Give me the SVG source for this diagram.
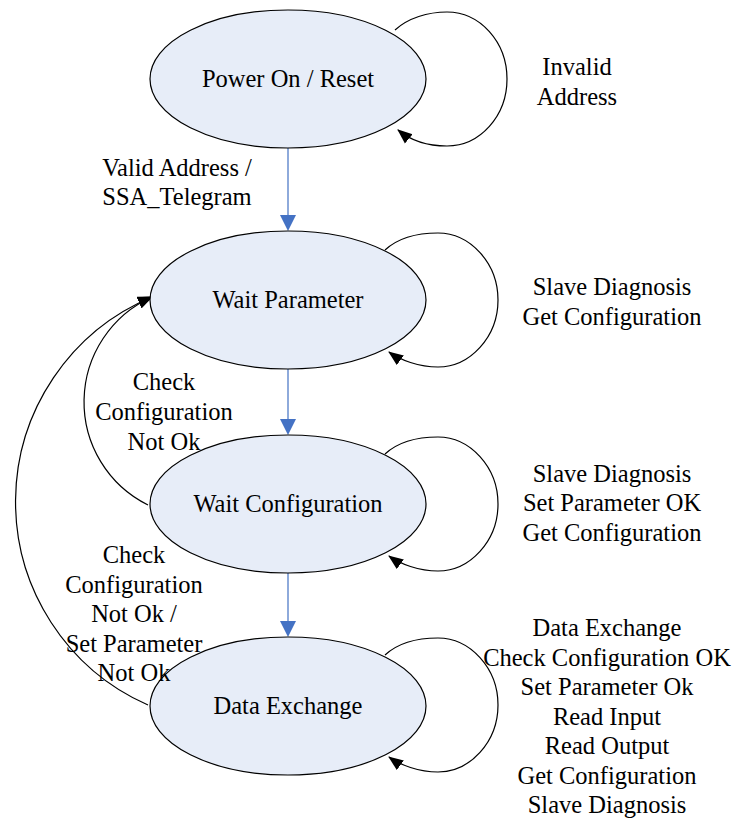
<svg xmlns="http://www.w3.org/2000/svg" width="734" height="821" viewBox="0 0 734 821">
<style>
.node ellipse{fill:#e7edf8;stroke:#000;stroke-width:1.2}
text{font-family:"Liberation Serif","Times New Roman",serif;font-size:24.5px;fill:#000;text-anchor:middle}
.loop{fill:none;stroke:#000;stroke-width:1.2;marker-end:url(#ah)}
.blue{stroke:#8eaadb;stroke-width:2;fill:none}
.bh{fill:#4472c4}
</style>
<defs>
<marker id="ah" markerUnits="userSpaceOnUse" markerWidth="16" markerHeight="14" refX="14" refY="6" orient="auto" viewBox="0 0 16 12">
<path d="M0,0 L15,6 L0,12 Z" fill="#000"/>
</marker>
</defs>
<rect width="734" height="821" fill="#fff"/>
<g id="connectors">
<line class="blue" x1="288" y1="148" x2="288" y2="216"/>
<polygon class="bh" points="280,215 296,215 288,231"/>
<line class="blue" x1="288" y1="369" x2="288" y2="420"/>
<polygon class="bh" points="280,419 296,419 288,435"/>
<line class="blue" x1="288" y1="573" x2="288" y2="622"/>
<polygon class="bh" points="280,621 296,621 288,637"/>
<path class="loop" d="M395 30 C408 18,428 12,447 12 C480 12,507 42,507 79 C507 116,480 146,447 146 C428 146,410 140,398 130"/>
<path class="loop" d="M385 250 C398 238,418 233,438 233 C470 233,498 263,498 300 C498 337,470 367,438 367 C419 367,400 360,389 352"/>
<path class="loop" d="M385 454 C398 442,418 437,438 437 C470 437,498 467,498 504 C498 541,470 571,438 571 C419 571,400 564,389 556"/>
<path class="loop" d="M385 655 C398 643,418 638,438 638 C470 638,498 668,498 705 C498 742,470 772,438 772 C419 772,400 765,389 757"/>
<path class="loop" d="M148 505 A115 115 0 0 1 152 297"/>
<path class="loop" d="M148 705 A222 222 0 0 1 152 297"/>
</g>
<g id="power-on" class="node">
<ellipse cx="288" cy="79" rx="138" ry="69"/>
<text x="288" y="87">Power On / Reset</text>
</g>
<g id="wait-parameter" class="node">
<ellipse cx="288" cy="300" rx="138" ry="69"/>
<text x="288" y="308">Wait Parameter</text>
</g>
<g id="wait-configuration" class="node">
<ellipse cx="288" cy="504" rx="138" ry="69"/>
<text x="288" y="512">Wait Configuration</text>
</g>
<g id="data-exchange" class="node">
<ellipse cx="288" cy="706" rx="138" ry="69"/>
<text x="288" y="714">Data Exchange</text>
</g>
<g id="labels">
<text x="577" y="75">Invalid</text>
<text x="577" y="105">Address</text>
<text x="177" y="176">Valid Address /</text>
<text x="177" y="205">SSA_Telegram</text>
<text x="612" y="295">Slave Diagnosis</text>
<text x="612" y="325">Get Configuration</text>
<text x="164" y="390">Check</text>
<text x="164" y="420">Configuration</text>
<text x="164" y="450">Not Ok</text>
<text x="612" y="482">Slave Diagnosis</text>
<text x="612" y="511">Set Parameter OK</text>
<text x="612" y="541">Get Configuration</text>
<text x="134" y="563">Check</text>
<text x="134" y="592.5">Configuration</text>
<text x="134" y="622">Not Ok /</text>
<text x="134" y="651.5">Set Parameter</text>
<text x="134" y="681">Not Ok</text>
<text x="607" y="636">Data Exchange</text>
<text x="607" y="665.5">Check Configuration OK</text>
<text x="607" y="695">Set Parameter Ok</text>
<text x="607" y="724.5">Read Input</text>
<text x="607" y="754">Read Output</text>
<text x="607" y="783.5">Get Configuration</text>
<text x="607" y="813">Slave Diagnosis</text>
</g>
</svg>
